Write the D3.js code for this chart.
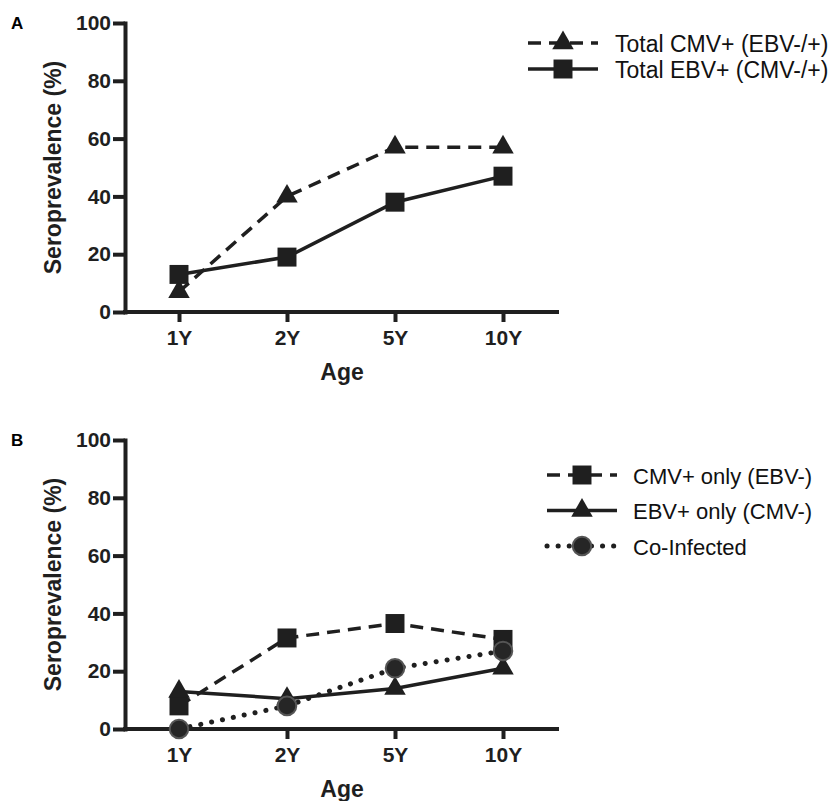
<!DOCTYPE html>
<html>
<head>
<meta charset="utf-8">
<script src="https://cdn.jsdelivr.net/npm/d3@7"></script>
<style>
  body { margin: 0; background: #fff; }
  svg { font-family: "Liberation Sans", Arial, sans-serif; }
</style>
</head>
<body>
<svg id="chart" width="835" height="801"></svg>
<script>
const ages = ["1Y", "2Y", "5Y", "10Y"];
const yTicks = [0, 20, 40, 60, 80, 100];

// panel A
const totalCMV = [7, 40, 57, 57];
const totalEBV = [13, 19, 38, 47];

// panel B
const cmvOnly = [8, 31.5, 36.5, 31];
const ebvOnly = [13, 10.5, 14, 21];
const coInfected = [0, 8, 21, 27];

const ink = "#1f1f1f";
const svg = d3.select("#chart");

const x = d3.scalePoint(ages, [125, 557]).padding(0.5);

const symbols = {
  triangle: d3.symbol(d3.symbolTriangle, 200),
  square: d3.symbol(d3.symbolSquare, 360),
  circle: d3.symbol(d3.symbolCircle, 270),
};
const dashes = { dashed: "13,8", solid: null, dotted: "0.1,11" };

function drawPanel(top, label, series, legend) {
  const y = d3.scaleLinear([0, 100], [top + 289, top]);
  const g = svg.append("g");

  g.append("text")
    .attr("x", 11).attr("y", top + 6)
    .attr("font-weight", "bold").attr("font-size", 17)
    .text(label);

  const axisY = d3.axisLeft(y).tickValues(yTicks).tickSize(12).tickSizeOuter(0).tickPadding(2);
  const axisX = d3.axisBottom(x).tickSize(10).tickSizeOuter(0).tickPadding(8);

  const ay = g.append("g").attr("transform", "translate(125,0)").call(axisY);
  const ax = g.append("g").attr("transform", `translate(0,${y(0)})`).call(axisX);
  [ax, ay].forEach((a) => {
    a.select(".domain").attr("stroke", ink).attr("stroke-width", 4).attr("stroke-linecap", "square");
    a.selectAll(".tick line").attr("stroke", ink).attr("stroke-width", 4);
    a.selectAll(".tick text")
      .attr("fill", ink).attr("font-size", 21).attr("font-weight", "bold")
      .attr("font-family", "Liberation Sans, Arial, sans-serif");
  });
  ax.select(".domain").attr("d", `M125,0H557`);

  g.append("text")
    .attr("transform", `translate(61,${(y(0) + y(100)) / 2}) rotate(-90)`)
    .attr("text-anchor", "middle")
    .attr("font-weight", "bold").attr("font-size", 23).attr("fill", ink)
    .text("Seroprevalence (%)");

  g.append("text")
    .attr("x", 342).attr("y", y(0) + 68)
    .attr("text-anchor", "middle")
    .attr("font-weight", "bold").attr("font-size", 23).attr("fill", ink)
    .text("Age");

  const line = d3.line().x((d, i) => x(ages[i])).y((d) => y(d));

  series.forEach((s) => {
    g.append("path")
      .attr("d", line(s.values))
      .attr("fill", "none")
      .attr("stroke", ink)
      .attr("stroke-width", s.style === "dotted" ? 5 : 3.5)
      .attr("stroke-linecap", s.style === "dotted" ? "round" : "butt")
      .attr("stroke-dasharray", dashes[s.style]);
  });

  series.forEach((s) => {
    g.selectAll(null)
      .data(s.values)
      .join("path")
      .attr("transform", (d, i) => `translate(${x(ages[i])},${y(d)})`)
      .attr("d", symbols[s.marker]())
      .attr("fill", s.marker === "circle" ? "#262626" : ink)
      .attr("stroke", s.marker === "circle" ? "#555" : "none")
      .attr("stroke-width", 2);
  });

  // legend
  series.forEach((s, i) => {
    const ly = legend.y + i * legend.gap;
    const lg = g.append("g").attr("transform", `translate(${legend.x},${ly})`);
    lg.append("line")
      .attr("x1", 0).attr("x2", 70).attr("y1", 0).attr("y2", 0)
      .attr("stroke", ink)
      .attr("stroke-width", s.style === "dotted" ? 5 : 3.5)
      .attr("stroke-linecap", s.style === "dotted" ? "round" : "butt")
      .attr("stroke-dasharray", dashes[s.style]);
    lg.append("path")
      .attr("transform", "translate(35,0)")
      .attr("d", symbols[s.marker]())
      .attr("fill", s.marker === "circle" ? "#262626" : ink)
      .attr("stroke", s.marker === "circle" ? "#555" : "none")
      .attr("stroke-width", 2);
    lg.append("text")
      .attr("x", legend.textX).attr("y", 8.5)
      .attr("font-size", legend.fontSize).attr("fill", "#111")
      .text(s.name);
  });
}

drawPanel(23, "A", [
  { name: "Total CMV+ (EBV-/+)", values: totalCMV, marker: "triangle", style: "dashed" },
  { name: "Total EBV+ (CMV-/+)", values: totalEBV, marker: "square", style: "solid" },
], { x: 528, y: 43, gap: 26, textX: 87, fontSize: 23 });

drawPanel(440, "B", [
  { name: "CMV+ only (EBV-)", values: cmvOnly, marker: "square", style: "dashed" },
  { name: "EBV+ only (CMV-)", values: ebvOnly, marker: "triangle", style: "solid" },
  { name: "Co-Infected", values: coInfected, marker: "circle", style: "dotted" },
], { x: 547, y: 475, gap: 35.5, textX: 86, fontSize: 22 });
</script>
</body>
</html>
